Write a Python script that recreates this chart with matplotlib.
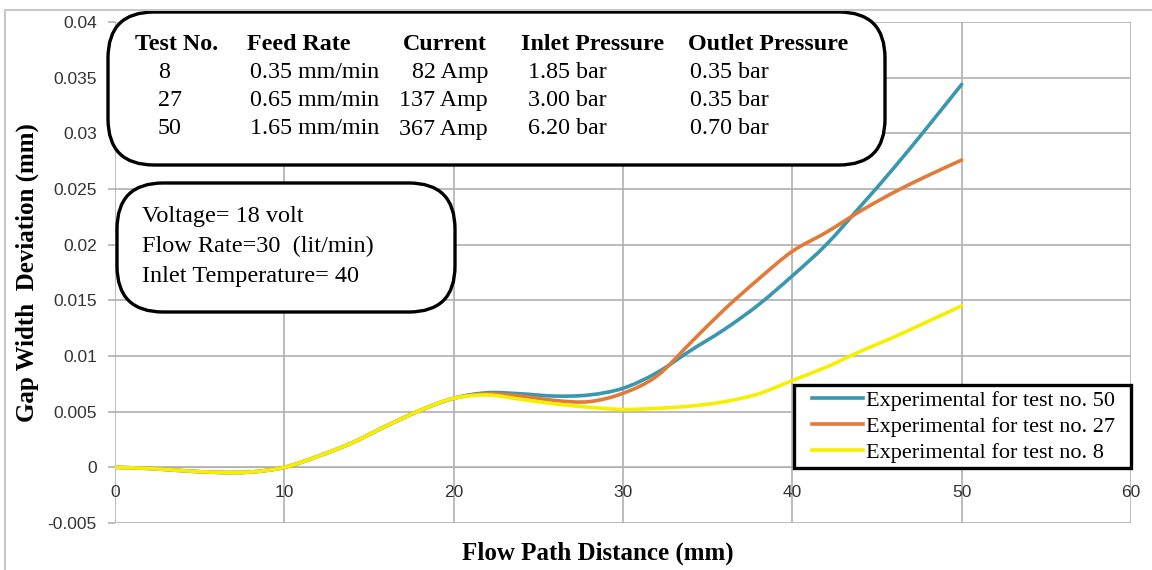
import matplotlib
matplotlib.use("Agg")
import matplotlib.pyplot as plt
from matplotlib.patches import FancyBboxPatch, Rectangle, PathPatch
from matplotlib.path import Path
from matplotlib.lines import Line2D

# ---------------- data ----------------
distance = [0, 2, 4, 6, 8, 10, 12, 14, 16, 18, 20, 22, 24, 26, 28, 30,
            32, 34, 36, 38, 40, 42, 44, 46, 48, 50]
test50 = [0.0, -0.0001, -0.0003, -0.00045, -0.00042, 0.0, 0.0010, 0.0022,
          0.0037, 0.0051, 0.0062, 0.0067, 0.0066, 0.0064, 0.0065, 0.0071,
          0.0085, 0.0105, 0.0124, 0.0146, 0.0172, 0.0200, 0.0234, 0.0269,
          0.0306, 0.0344]
test27 = [0.0, -0.0001, -0.0003, -0.00045, -0.00042, 0.0, 0.0010, 0.0022,
          0.0037, 0.0051, 0.0062, 0.0066, 0.0064, 0.0060, 0.0059, 0.00665,
          0.0082, 0.0112, 0.0142, 0.0169, 0.0194, 0.0211, 0.0230, 0.0247,
          0.0262, 0.0276]
test8 = [0.0, -0.0001, -0.0003, -0.00045, -0.00042, 0.0, 0.0010, 0.0022,
         0.0037, 0.0051, 0.0062, 0.0065, 0.0061, 0.0057, 0.0054, 0.0052,
         0.0053, 0.0055, 0.0059, 0.0066, 0.0078, 0.0090, 0.0104, 0.0117,
         0.0131, 0.0145]

series_labels = ["Experimental for test no. 50",
                 "Experimental for test no. 27",
                 "Experimental for test no. 8"]
series_colors = ["#3A97B0", "#E07B39", "#F5F000"]

x_ticks = [0, 10, 20, 30, 40, 50, 60]
y_ticks = [-0.005, 0, 0.005, 0.01, 0.015, 0.02, 0.025, 0.03, 0.035, 0.04]
y_tick_labels = ["-0.005", "0", "0.005", "0.01", "0.015", "0.02", "0.025",
                 "0.03", "0.035", "0.04"]

table_headers = ["Test No.", "Feed Rate", "Current", "Inlet Pressure", "Outlet Pressure"]
table_test_no = ["8", "27", "50"]
table_feed = ["0.35 mm/min", "0.65 mm/min", "1.65 mm/min"]
table_current = ["82 Amp", "137 Amp", "367 Amp"]
table_inlet = ["1.85 bar", "3.00 bar", "6.20 bar"]
table_outlet = ["0.35 bar", "0.35 bar", "0.70 bar"]

conditions = ["Voltage= 18 volt", "Flow Rate=30  (lit/min)", "Inlet Temperature= 40"]

x_label = "Flow Path Distance (mm)"
y_label = "Gap Width  Deviation (mm)"

# ---------------- figure ----------------
W, H = 1152, 570
fig = plt.figure(figsize=(W / 100, H / 100), dpi=100)
SERIF = "Liberation Serif"
SANS = "Liberation Sans"
GRID = "#b0b0b0"


def fx(px):
    return px / W


def fy(py):
    return 1 - py / H


def smooth_path(xs, ys):
    """Excel-style smoothed line: Bezier segments through every data point."""
    n = len(xs)
    verts = [(xs[0], ys[0])]
    codes = [Path.MOVETO]
    for i in range(n - 1):
        x0, y0 = (xs[i - 1], ys[i - 1]) if i > 0 else (xs[i], ys[i])
        x1, y1 = xs[i], ys[i]
        x2, y2 = xs[i + 1], ys[i + 1]
        x3, y3 = (xs[i + 2], ys[i + 2]) if i + 2 < n else (x2, y2)
        c1 = (x1 + (x2 - x0) / 6.0, y1 + (y2 - y0) / 6.0)
        c2 = (x2 - (x3 - x1) / 6.0, y2 - (y3 - y1) / 6.0)
        verts += [c1, c2, (x2, y2)]
        codes += [Path.CURVE4] * 3
    return Path(verts, codes)


# outer light frame
fig.patches.append(Rectangle((fx(5), fy(H + 5)), fx(W + 10) - fx(5), fy(10) - fy(H + 5),
                             transform=fig.transFigure, fill=False,
                             edgecolor="#c8c8c8", linewidth=1.5, zorder=0))

ax = fig.add_axes([fx(115), fy(523), fx(1131) - fx(115), fy(22) - fy(523)])
ax.set_xlim(0, 60)
ax.set_ylim(-0.005, 0.04)
ax.set_xticks(x_ticks)
ax.set_yticks(y_ticks)
ax.set_yticklabels(y_tick_labels)
ax.grid(True, color=GRID, linewidth=1.2)
ax.set_axisbelow(True)
for s in ["top", "right", "left"]:
    ax.spines[s].set_visible(False)
ax.spines["bottom"].set_position(("data", 0))
ax.spines["bottom"].set_color(GRID)
ax.tick_params(axis="both", labelsize=12.5, labelcolor="#333333")
ax.tick_params(axis="x", length=0, pad=13)
ax.tick_params(axis="y", length=5, width=1.2, color=GRID, direction="out", pad=8)
for lab in ax.get_xticklabels() + ax.get_yticklabels():
    lab.set_fontfamily(SANS)

handles = []
for vals, lab, col in zip([test50, test27, test8], series_labels, series_colors):
    patch = PathPatch(smooth_path(distance, vals), facecolor="none", edgecolor=col,
                      linewidth=2.6, joinstyle="round", capstyle="round", zorder=3)
    ax.add_patch(patch)
    handles.append(Line2D([], [], color=col, linewidth=2.6, label=lab))

# legend frame drawn separately (inside the axes), legend text centred in it
legend_frame = Rectangle((fx(794), fy(468)), fx(1131) - fx(794), fy(385) - fy(468),
                         transform=fig.transFigure, facecolor="white",
                         edgecolor="black", linewidth=2.4, zorder=4, clip_on=False)
ax.add_artist(legend_frame)
leg = ax.legend(handles=handles, loc="center",
                bbox_to_anchor=(fx((794 + 1131) / 2 + 1), fy(426.5)),
                bbox_transform=fig.transFigure,
                borderaxespad=0, frameon=False,
                prop={"family": SERIF, "size": 16}, labelspacing=0.25,
                handlelength=2.3, handletextpad=0.1, borderpad=0.0)
leg.set_zorder(5)

# axis labels
fig.text(fx(598), fy(553), x_label, ha="center", va="center",
         fontfamily=SERIF, fontweight="bold", fontsize=18)
fig.text(fx(27), fy(273), y_label, ha="center", va="center", rotation=90,
         fontfamily=SERIF, fontweight="bold", fontsize=18)

# table box and conditions box (drawn above the axes)
box1 = FancyBboxPatch((fx(108), fy(165)), fx(885) - fx(108), fy(12) - fy(165),
                      boxstyle="round,pad=0,rounding_size=0.04",
                      transform=fig.transFigure, facecolor="white",
                      edgecolor="black", linewidth=2.4, zorder=6,
                      mutation_aspect=W / H, clip_on=False)
ax.add_artist(box1)
box2 = FancyBboxPatch((fx(117), fy(312)), fx(455) - fx(117), fy(183) - fy(312),
                      boxstyle="round,pad=0,rounding_size=0.04",
                      transform=fig.transFigure, facecolor="white",
                      edgecolor="black", linewidth=2.4, zorder=6,
                      mutation_aspect=W / H, clip_on=False)
ax.add_artist(box2)

tkw = dict(fontfamily=SERIF, va="baseline", zorder=7)
header_x = [135, 247, 403, 521, 688]
for hx, h in zip(header_x, table_headers):
    fig.text(fx(hx), fy(50), h, fontweight="bold", ha="left", fontsize=17.3, **tkw)
row_y = [78, 106, 134.5]
for i, ry in enumerate(row_y):
    fig.text(fx(158), fy(ry), table_test_no[i], ha="left", fontsize=17.3, **tkw)
    fig.text(fx(250), fy(ry), table_feed[i], ha="left", fontsize=17.3, **tkw)
    fig.text(fx(488), fy(ry), table_current[i], ha="right", fontsize=17.3, **tkw)
    fig.text(fx(528), fy(ry), table_inlet[i], ha="left", fontsize=17.3, **tkw)
    fig.text(fx(690), fy(ry), table_outlet[i], ha="left", fontsize=17.3, **tkw)

cond_y = [222, 252, 282]
for cy, c in zip(cond_y, conditions):
    fig.text(fx(142), fy(cy), c, ha="left", fontsize=17.5, **tkw)

fig.savefig("out.png", dpi=100)
